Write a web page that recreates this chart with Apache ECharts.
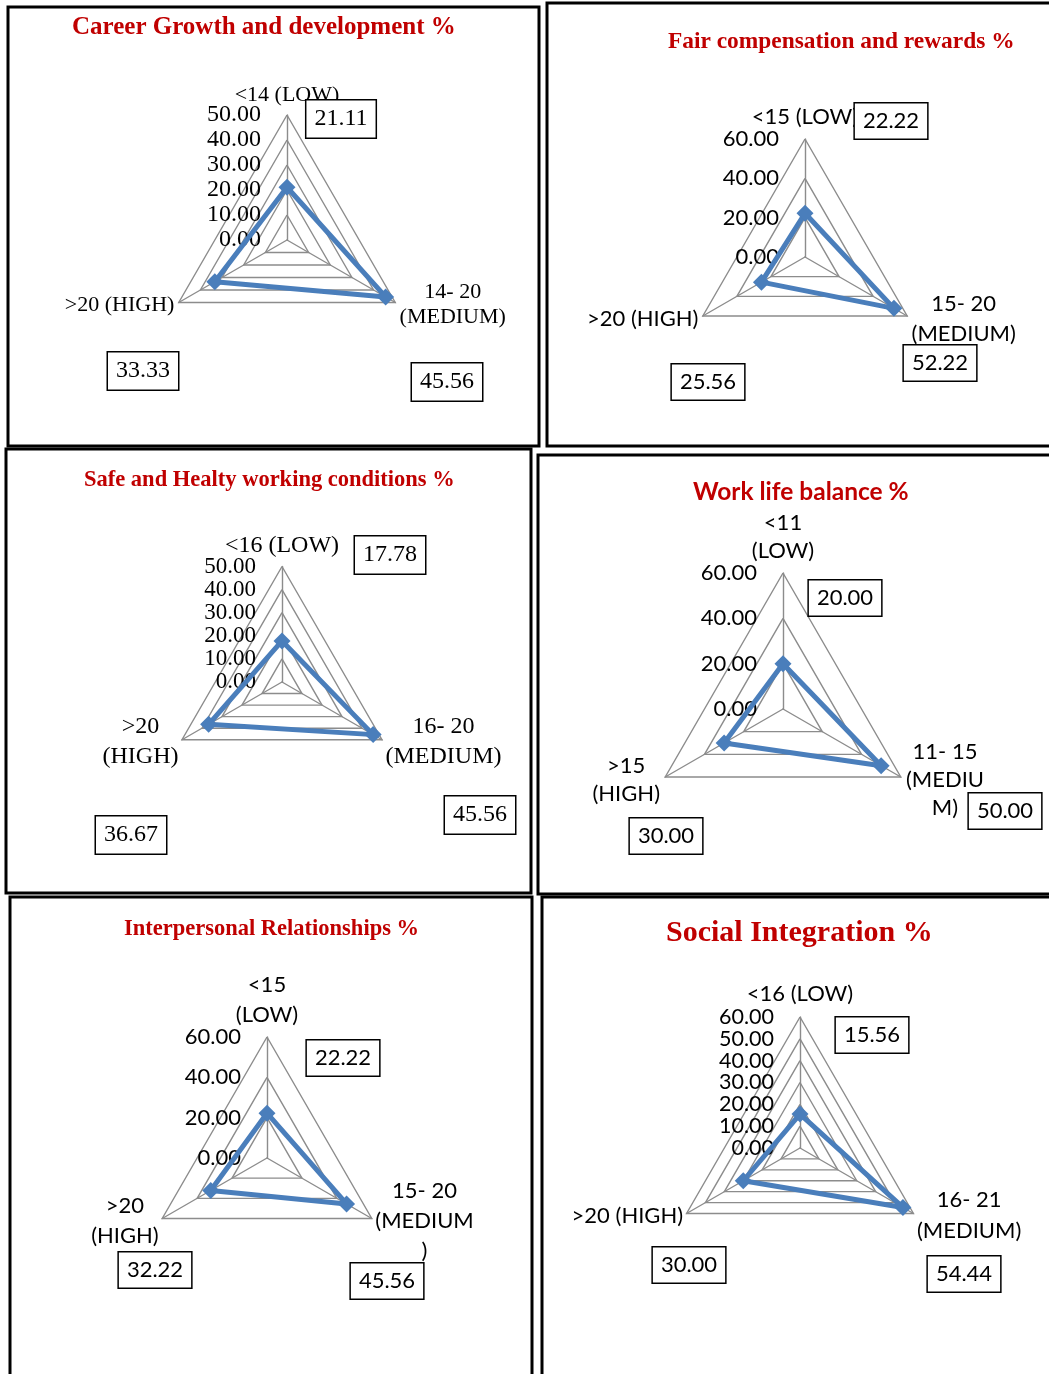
<!DOCTYPE html>
<html>
<head>
<meta charset="utf-8">
<script src="https://cdn.jsdelivr.net/npm/echarts@6/dist/echarts.min.js"></script>
<style>
  html, body { margin: 0; padding: 0; background: #fff; }
  #chart { width: 1049px; height: 1374px; }
</style>
</head>
<body>
<div id="chart"></div>
<script>
// chart data, one entry per panel (order: LOW, HIGH, MEDIUM = echarts counter-clockwise order)
const panelTitles = [
  'Career Growth and development %',
  'Fair compensation and rewards %',
  'Safe and Healty working conditions %',
  'Work life balance %',
  'Interpersonal Relationships %',
  'Social Integration %'
]
const lowNames = ['<14 (LOW)', '<15 (LOW)', '<16 (LOW)', '<11\n(LOW)', '<15\n(LOW)', '<16 (LOW)']
const highNames = ['>20 (HIGH)', '>20 (HIGH)', '>20\n(HIGH)', '>15\n(HIGH)', '>20\n(HIGH)', '>20 (HIGH)']
const mediumNames = ['14- 20\n(MEDIUM)', '15- 20\n(MEDIUM)', '16- 20\n(MEDIUM)', '11- 15\n(MEDIU\nM)', '15- 20\n(MEDIUM\n)', '16- 21\n(MEDIUM)']
const lowValues = [21.11, 22.22, 17.78, 20.00, 22.22, 15.56]
const highValues = [33.33, 25.56, 36.67, 30.00, 32.22, 30.00]
const mediumValues = [45.56, 52.22, 45.56, 50.00, 45.56, 54.44]
const axisMax = [50, 60, 50, 60, 60, 60]
const axisStep = [10, 20, 10, 20, 20, 10]

const SERIF = '"Liberation Serif", "Times New Roman", serif'
const SANS = 'Lato, "Open Sans", sans-serif'

// layout only: positions / sizes / fonts of each panel
const layout = [
  { frame: [8, 7, 531, 439], center: [287, 240], r: 125, serif: true, titleSans: false, titleX: 72, titleY: 28, titleSize: 25,
    nameSize: 22, tickSize: 24, boxSize: 24, lh: 25, gap: 5, topPad: 4, boxes: [[54, -121], [-144, 131], [160, 142]] },
  { frame: [547, 3, 520, 443], center: [805, 257], r: 118, serif: false, titleSans: false, titleX: 668, titleY: 42, titleSize: 23.4,
    nameSize: 22, tickSize: 22, boxSize: 22, lh: 30, gap: 5, topPad: 5, boxes: [[86, -136], [-97, 125], [135, 106]] },
  { frame: [6, 449, 525, 444], center: [282, 682], r: 115.5, serif: true, titleSans: false, titleX: 84, titleY: 480, titleSize: 22.5,
    nameSize: 24, tickSize: 23, boxSize: 24, lh: 30, gap: 4, topPad: 3, boxes: [[108, -127], [-151, 153], [198, 133]] },
  { frame: [538, 455, 520, 439], center: [783, 709], r: 136, serif: false, titleSans: true, titleX: 693, titleY: 492, titleSize: 24.5,
    nameSize: 22, tickSize: 22, boxSize: 22, lh: 28, gap: 6, topPad: 4, boxes: [[62, -111], [-117, 127], [222, 102]] },
  { frame: [10, 897, 522, 490], center: [267, 1158], r: 121, serif: false, titleSans: false, titleX: 124, titleY: 929, titleSize: 22.5,
    nameSize: 22, tickSize: 22, boxSize: 22, lh: 30, gap: 4, topPad: 7, boxes: [[76, -100], [-112, 112], [120, 123]] },
  { frame: [542, 897, 520, 490], center: [800, 1148], r: 131, serif: false, titleSans: false, titleX: 666, titleY: 933, titleSize: 30,
    nameSize: 22, tickSize: 21.5, boxSize: 22, lh: 31, gap: 4, topPad: 7, boxes: [[72, -113], [-111, 117], [164, 126]] }
]

const chart = echarts.init(document.getElementById('chart'))

const titles = []
const radars = []
const series = []
const frames = []

layout.forEach((p, i) => {
  const font = p.serif ? SERIF : SANS
  const vals = [lowValues[i], highValues[i], mediumValues[i]]
  const max = axisMax[i]

  frames.push({
    type: 'rect',
    silent: true,
    shape: { x: p.frame[0], y: p.frame[1], width: p.frame[2], height: p.frame[3] },
    style: { fill: 'none', stroke: '#000', lineWidth: 3 }
  })

  titles.push({
    text: panelTitles[i],
    left: p.titleX,
    top: p.titleY - p.titleSize / 2,
    padding: 0,
    textStyle: {
      color: '#C00000',
      fontWeight: 'bold',
      fontFamily: p.titleSans ? SANS : SERIF,
      fontSize: p.titleSize
    }
  })

  radars.push({
    center: p.center,
    radius: p.r,
    startAngle: 90,
    shape: 'polygon',
    splitNumber: max / axisStep[i],
    nameGap: p.gap,
    indicator: [
      { name: lowNames[i], min: 0, max: max, nameMoveOverlap: false },
      { name: highNames[i], min: 0, max: max, nameMoveOverlap: false, axisLabel: { show: false } },
      { name: mediumNames[i], min: 0, max: max, nameMoveOverlap: false, axisLabel: { show: false } }
    ],
    axisName: {
      color: '#000',
      fontFamily: font,
      fontSize: p.nameSize,
      formatter: name => {
        const tag = name === lowNames[i] ? 't' : 'n'
        return name.split('\n').map(s => '{' + tag + '|' + s + '}').join('\n')
      },
      rich: {
        n: { align: 'center', color: '#000', fontFamily: font, fontSize: p.nameSize, lineHeight: p.lh },
        t: { align: 'center', color: '#000', fontFamily: font, fontSize: p.nameSize, lineHeight: p.lh, padding: [0, 0, p.topPad, 0] }
      }
    },
    axisLine: { lineStyle: { color: '#8c8c8c', width: 1.4 } },
    splitLine: { lineStyle: { color: '#8c8c8c', width: 1.4 } },
    splitArea: { show: false },
    axisTick: { show: false },
    axisLabel: {
      show: true,
      showMinLabel: true,
      showMaxLabel: true,
      hideOverlap: false,
      margin: 26,
      color: '#000',
      fontFamily: font,
      fontSize: p.tickSize,
      formatter: v => Number(v).toFixed(2)
    }
  })

  series.push({
    type: 'radar',
    radarIndex: i,
    symbol: 'diamond',
    symbolSize: 17,
    lineStyle: { color: '#4A7EBB', width: 5 },
    itemStyle: { color: '#4A7EBB' },
    label: {
      show: true,
      formatter: prm => Number(prm.value).toFixed(2),
      color: '#000',
      fontFamily: font,
      fontSize: p.boxSize,
      backgroundColor: '#fff',
      borderColor: '#000',
      borderWidth: 1.5,
      padding: [7, 8, 6, 8]
    },
    labelLayout: prm => {
      const idx = vals.findIndex(v => v.toFixed(2) === prm.text)
      if (idx < 0) return {}
      return {
        x: p.center[0] + p.boxes[idx][0],
        y: p.center[1] + p.boxes[idx][1],
        align: 'center',
        verticalAlign: 'middle'
      }
    },
    data: [{ value: vals, name: panelTitles[i] }]
  })
})

chart.setOption({
  animation: false,
  backgroundColor: '#fff',
  title: titles,
  radar: radars,
  graphic: frames,
  series: series
})
</script>
</body>
</html>
